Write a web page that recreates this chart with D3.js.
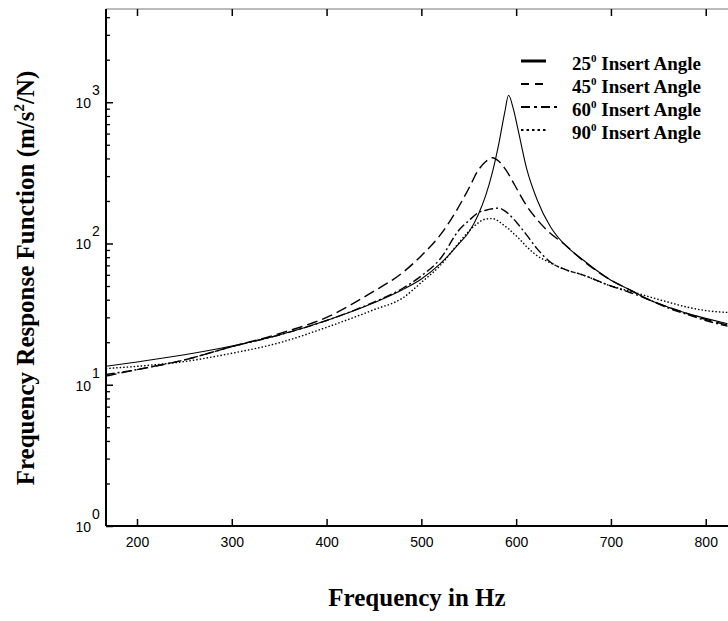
<!DOCTYPE html>
<html>
<head>
<meta charset="utf-8">
<script src="https://cdn.jsdelivr.net/npm/d3@7"></script>
<style>
  html, body { margin: 0; padding: 0; background: #fff; }
  svg { display: block; }
</style>
</head>
<body>
<svg id="chart" width="728" height="621"></svg>
<script>
// ---- data ----
const freq = [167, 200, 250, 300, 350, 400, 450, 480, 500, 520, 540, 550, 560, 568, 575, 582, 588, 592, 597, 602, 611, 622, 636, 650, 670, 700, 720, 740, 760, 780, 800, 823];
const angle25 = [13.5, 14.5, 16.3, 18.8, 22.5, 28.5, 38, 47, 56, 72, 100, 120, 160, 220, 320, 520, 850, 1120, 900, 640, 340, 205, 132, 100, 77, 55, 47, 40, 35.5, 32, 29.5, 27];
const angle45 = [11.5, 12.8, 15.0, 18.6, 23, 30, 46, 62, 82, 115, 185, 245, 330, 380, 405, 380, 340, 310, 270, 235, 185, 148, 118, 100, 76, 55, 47, 40, 35.5, 32, 29, 26.5];
const angle60 = [11.8, 12.8, 15.0, 18.6, 22.5, 28.5, 38.5, 48, 59, 78, 125, 145, 165, 172, 176, 178, 170, 162, 150, 137, 115, 92, 74, 66, 60, 50, 45, 40, 35, 31.5, 28.5, 26];
const angle90 = [13.0, 13.5, 14.6, 16.7, 19.8, 25.5, 34, 41, 53, 70, 102, 122, 140, 149, 150, 143, 133, 127, 118, 110, 95, 82, 73, 66, 60, 50, 46, 42, 38.5, 35.5, 33.5, 32.5];
const seriesNames = ["25", "45", "60", "90"];
const xTicks = [200, 300, 400, 500, 600, 700, 800];
const yExponents = [0, 1, 2, 3];
const xTitle = "Frequency in Hz";

// ---- layout ----
const L = 106, R = 728, T = 9, B = 526;
const svg = d3.select("#chart");
const x = d3.scaleLinear().domain([167.3, 823.5]).range([L, R]);
const y = d3.scaleLog().domain([1, Math.pow(10, 3.66)]).range([B, T]);

const styles = [
  { dash: null, w: 1.1, legW: 3 },
  { dash: "11,5", w: 1.4, legW: 2 },
  { dash: "9,3,2,3", w: 1.4, legW: 2 },
  { dash: "1.5,2", w: 1.4, legW: 2.2 }
];
const allSeries = [angle25, angle45, angle60, angle90];

// curves
const line = d3.line().x(d => x(d[0])).y(d => y(d[1])).curve(d3.curveMonotoneX);
svg.append("clipPath").attr("id", "plotclip")
  .append("rect").attr("x", L).attr("y", T).attr("width", R - L).attr("height", B - T);
const gLines = svg.append("g").attr("clip-path", "url(#plotclip)");
allSeries.forEach((vals, i) => {
  gLines.append("path")
    .datum(freq.map((f, k) => [f, vals[k]]))
    .attr("d", line)
    .attr("fill", "none")
    .attr("stroke", "#000")
    .attr("stroke-width", styles[i].w)
    .attr("stroke-dasharray", styles[i].dash);
});

// frame: top line thin grey
svg.append("line").attr("x1", L).attr("x2", R).attr("y1", T).attr("y2", T)
  .attr("stroke", "#777").attr("stroke-width", 1);

// bottom axis (ticks inward)
const xAxis = d3.axisBottom(x).tickValues(xTicks).tickSize(-7).tickPadding(11).tickFormat(d3.format("d"));
const gx = svg.append("g").attr("transform", `translate(0,${B})`).call(xAxis);
gx.select(".domain").attr("stroke-width", 2).attr("d", `M${L},0H${R}`);
gx.selectAll(".tick line").attr("stroke-width", 1.5);
gx.selectAll("text").attr("font-family", "Liberation Sans, Arial, sans-serif").attr("font-size", 14).attr("fill", "#000");

// top axis ticks (mirror)
const xTop = d3.axisTop(x).tickValues(xTicks).tickSize(-7).tickFormat("");
const gxt = svg.append("g").attr("transform", `translate(0,${T})`).call(xTop);
gxt.select(".domain").remove();
gxt.selectAll(".tick line").attr("stroke-width", 1.5);

// left axis with minor ticks
const minor = [];
for (let e = 0; e <= 3; e++) for (let m = 2; m <= 9; m++) {
  const v = m * Math.pow(10, e);
  if (v <= y.domain()[1]) minor.push(v);
}
const yAxisMinor = d3.axisLeft(y).tickValues(minor).tickSize(-4).tickFormat("");
const gym = svg.append("g").attr("transform", `translate(${L},0)`).call(yAxisMinor);
gym.select(".domain").remove();
gym.selectAll(".tick line").attr("stroke-width", 1.3);

const yAxis = d3.axisLeft(y).tickValues(yExponents.map(e => Math.pow(10, e))).tickSize(-7).tickFormat("");
const gy = svg.append("g").attr("transform", `translate(${L},0)`).call(yAxis);
gy.select(".domain").attr("stroke-width", 2).attr("d", `M0,${T}V${B}`);
gy.selectAll(".tick line").attr("stroke-width", 1.5);

// y tick labels "10" with superscript exponent
const gyl = svg.append("g").attr("font-family", "Liberation Sans, Arial, sans-serif").attr("font-size", 14).attr("fill", "#000");
yExponents.forEach(e => {
  const yy = y(Math.pow(10, e));
  gyl.append("text").attr("x", 91).attr("y", yy + 6).attr("text-anchor", "end").text("10");
  gyl.append("text").attr("x", 92).attr("y", yy - 7).attr("text-anchor", "start").text(String(e));
});

// axis titles
svg.append("text")
  .attr("x", (L + R) / 2).attr("y", 606)
  .attr("text-anchor", "middle")
  .attr("font-family", "Liberation Serif, Times New Roman, serif")
  .attr("font-weight", "bold").attr("font-size", 25)
  .text(xTitle);

const yt = svg.append("text")
  .attr("transform", `translate(34,278) rotate(-90)`)
  .attr("text-anchor", "middle")
  .attr("font-family", "Liberation Serif, Times New Roman, serif")
  .attr("font-weight", "bold").attr("font-size", 25);
yt.append("tspan").text("Frequency Response Function (m/s");
yt.append("tspan").attr("font-size", 15).attr("dy", -10).text("2");
yt.append("tspan").attr("dy", 10).text("/N)");

// legend
const legY0 = 70, legDy = 23;
const gl = svg.append("g");
seriesNames.forEach((n, i) => {
  const yy = legY0 + i * legDy;
  gl.append("line").attr("x1", 521).attr("x2", i === 2 ? 558 : 546).attr("y1", yy - 9).attr("y2", yy - 9)
    .attr("stroke", "#000").attr("stroke-width", styles[i].legW)
    .attr("stroke-dasharray", i === 1 ? "8,6" : i === 2 ? "9,4,3,4" : i === 3 ? "2.5,3" : null);
  const t = gl.append("text").attr("x", 572).attr("y", yy)
    .attr("font-family", "Liberation Serif, Times New Roman, serif")
    .attr("font-weight", "bold").attr("font-size", 19);
  t.append("tspan").text(n);
  t.append("tspan").attr("font-size", 11).attr("dy", -8).text("0");
  t.append("tspan").attr("dy", 8).text(" Insert Angle");
});
</script>
</body>
</html>
